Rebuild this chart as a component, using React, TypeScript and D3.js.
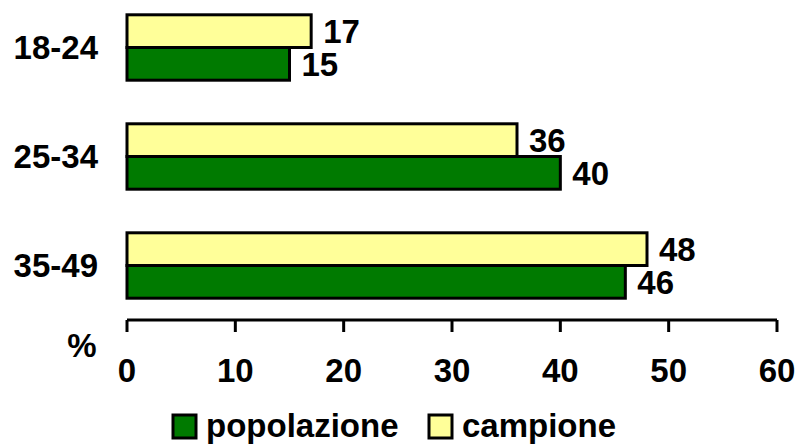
import React from 'react';
import * as d3 from 'd3';

// age groups, top to bottom
const categories = ['18-24', '25-34', '35-49'];
const popolazione = [15, 40, 46];
const campione = [17, 36, 48];
const xTicks = [0, 10, 20, 30, 40, 50, 60];
const seriesNames = ['popolazione', 'campione'];

const GREEN = '#007A00';
const YELLOW = '#FFFF99';
const FONT = '"Liberation Sans", Arial, sans-serif';

const App = () => {
  const width = 800;
  const height = 446;

  const x = d3.scaleLinear().domain([0, 60]).range([127, 777]);
  const y = d3.scaleBand<string>()
    .domain(categories)
    .range([-7, 320])
    .paddingInner(0.4)
    .paddingOuter(0.2);
  // inner band: campione on top, popolazione below
  const sub = d3.scaleBand<string>()
    .domain(['campione', 'popolazione'])
    .range([0, y.bandwidth()]);

  const axisY = 320;

  const bar = (series: string, vals: number[], fill: string) =>
    categories.map((c, i) => {
      const top = (y(c) ?? 0) + (sub(series) ?? 0);
      const h = sub.bandwidth();
      return (
        <g key={series + c}>
          <rect x={x(0)} y={top} width={x(vals[i]) - x(0)} height={h}
            fill={fill} stroke="#000" strokeWidth={3} />
          <text x={x(vals[i]) + 12} y={top + h / 2} dy="0.36em"
            fontSize={33} fontWeight="bold">{vals[i]}</text>
        </g>
      );
    });

  return (
    <svg width={width} height={height}
      style={{ position: 'absolute', left: 0, top: 0, background: '#fff' }}
      fontFamily={FONT}>
      {/* category labels */}
      {categories.map(c => (
        <text key={c} x={98} y={(y(c) ?? 0) + y.bandwidth() / 2} dy="0.36em"
          textAnchor="end" fontSize={33} fontWeight="bold">{c}</text>
      ))}

      {bar('campione', campione, YELLOW)}
      {bar('popolazione', popolazione, GREEN)}

      {/* x axis */}
      <line x1={x(0)} x2={x(60)} y1={axisY} y2={axisY} stroke="#000" strokeWidth={3} />
      {xTicks.map(t => (
        <g key={t}>
          <line x1={x(t)} x2={x(t)} y1={axisY} y2={axisY + 12} stroke="#000" strokeWidth={3} />
          <text x={x(t)} y={382} textAnchor="middle" fontSize={33} fontWeight="bold">{t}</text>
        </g>
      ))}
      <text x={82} y={345} dy="0.36em" textAnchor="middle" fontSize={33} fontWeight="bold">%</text>

      {/* legend */}
      {seriesNames.map((s, i) => {
        const lx = i === 0 ? 173 : 429;
        return (
          <g key={s}>
            <rect x={lx} y={415} width={23} height={23}
              fill={s === 'popolazione' ? GREEN : YELLOW} stroke="#000" strokeWidth={3} />
            <text x={lx + 33} y={437} fontSize={33} fontWeight="bold">{s}</text>
          </g>
        );
      })}
    </svg>
  );
};

export default App;
